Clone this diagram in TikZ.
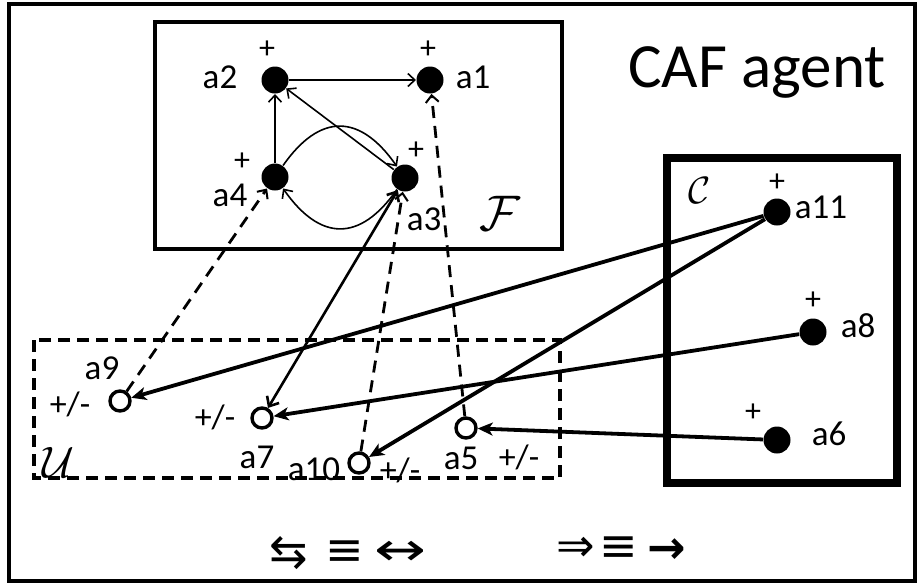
\documentclass[tikz,border=0pt]{standalone}
\usepackage{fontspec}
\setmainfont{Carlito}
\newfontfamily\symfont{DejaVu Sans}
\usetikzlibrary{arrows.meta}
\begin{document}
\begin{tikzpicture}[x=1pt,y=-1pt,
  agent/.style={circle,fill=black,minimum size=27pt,inner sep=0pt,outer sep=0.5pt},
  uagent/.style={circle,draw=black,line width=3.4pt,fill=white,minimum size=20pt,inner sep=0pt},
  lab/.style={font=\fontsize{35}{35}\selectfont,inner sep=0pt},
  pl/.style={font=\fontsize{32}{32}\selectfont,inner sep=0pt},
  pm/.style={font=\fontsize{34}{34}\selectfont,inner sep=0pt},
  sym/.style={font=\symfont\fontsize{46}{46}\selectfont,inner sep=0pt},
  thinarr/.style={line width=1.6pt,-{Straight Barb[length=7pt,width=13pt]}},
  dasharr/.style={line width=2.8pt,dash pattern=on 12pt off 8pt,-{Straight Barb[length=7pt,width=13pt,line width=2pt]}},
  medarr/.style={line width=2.6pt,{Straight Barb[length=8pt,width=14pt]}-{Straight Barb[length=8pt,width=14pt]}},
  thickarr/.style={line width=3.8pt,-{Stealth[length=15pt,width=13pt,inset=4pt]}},
  boxline/.style={draw=black}
]
\useasboundingbox (0,0) rectangle (922,587);
% frames
\draw[boxline,line width=4pt] (9,4) rectangle (915,581);
\draw[boxline,line width=4pt] (155,22) rectangle (562,249);
\draw[boxline,line width=8pt] (667,158) rectangle (897,483);
\draw[boxline,line width=3.4pt,dash pattern=on 12pt off 7pt] (34,340) rectangle (560,478);
% titles
\node[font=\fontsize{63}{63}\selectfont,inner sep=0pt] (title) at (757,72) {CAF agent};
\node[scale=5,inner sep=0pt] (setF) at (500,213) {$\mathcal{F}$};
\node[scale=3.8,inner sep=0pt] (setC) at (700,191) {$\mathcal{C}$};
\node[scale=4.4,inner sep=0pt] (setU) at (58,462) {$\mathcal{U}$};
% agents in F
\node[agent] (a2) at (275,80) {};
\node[agent] (a1) at (430,80) {};
\node[agent] (a4) at (275,177) {};
\node[agent] (a3) at (405,178) {};
% agents in C
\node[agent] (a11) at (777,212) {};
\node[agent] (a8) at (813,332) {};
\node[agent] (a6) at (777,440) {};
% agents in U
\node[uagent] (a9) at (120,401) {};
\node[uagent] (a7) at (262,418) {};
\node[uagent] (a10) at (359,463) {};
\node[uagent] (a5) at (466,428) {};
% labels
\node[lab] (la2) at (220,77) {a2};
\node[pl] (pa2) at (267,50) {+};
\node[lab] (la1) at (473,77) {a1};
\node[pl] (pa1) at (428,50) {+};
\node[lab] (la4) at (230,195) {a4};
\node[pl] (pa4) at (242,162) {+};
\node[lab] (la3) at (424,219) {a3};
\node[pl] (pa3) at (416,151) {+};
\node[lab] (la11) at (821,207) {a11};
\node[pl] (pa11) at (777,183) {+};
\node[lab] (la8) at (858,326) {a8};
\node[pl] (pa8) at (813,301) {+};
\node[lab] (la6) at (829,434) {a6};
\node[pl] (pa6) at (753,413) {+};
\node[lab] (la9) at (102,368) {a9};
\node[pm] (pa9) at (70,404) {+/-};
\node[lab] (la7) at (257,457) {a7};
\node[pm] (pa7) at (215,417) {+/-};
\node[lab] (la10) at (314,469) {a10};
\node[pm] (pa10) at (400,470) {+/-};
\node[lab] (la5) at (461,458) {a5};
\node[pm] (pa5) at (519,457) {+/-};
% arguments inside F
\draw[thinarr] (a2) -- (a1);
\draw[thinarr] (a4) -- (a2);
\draw[thinarr] (a3) -- (a2);
\draw[thinarr] (a4) to[out=55,in=125,looseness=1.45] (a3);
\draw[thinarr] (a3) to[out=-125,in=-55,looseness=1.45] (a4);
% dashed
\draw[dasharr] (a9) -- (a4);
\draw[dasharr] (a10) -- (a3);
\draw[dasharr] (a5) -- (a1);
% medium double
\draw[medarr] (a7) -- (a3);
% thick
\draw[thickarr] (a11) -- (a9);
\draw[thickarr] (a11) -- (a10);
\draw[thickarr] (a8) -- (a7);
\draw[thickarr] (a6) -- (a5);
% legend
\node[sym] (s1) at (289,553) {⇆};
\node[sym] (s2) at (345,553) {≡};
\node[sym] (s3) at (401,553) {\scalebox{1.35}[1]{↔}};
\node[sym] (s4) at (576,549) {⇒};
\node[sym] (s5) at (619,549) {≡};
\node[sym] (s6) at (667,551) {\bfseries →};
\end{tikzpicture}
\end{document}
